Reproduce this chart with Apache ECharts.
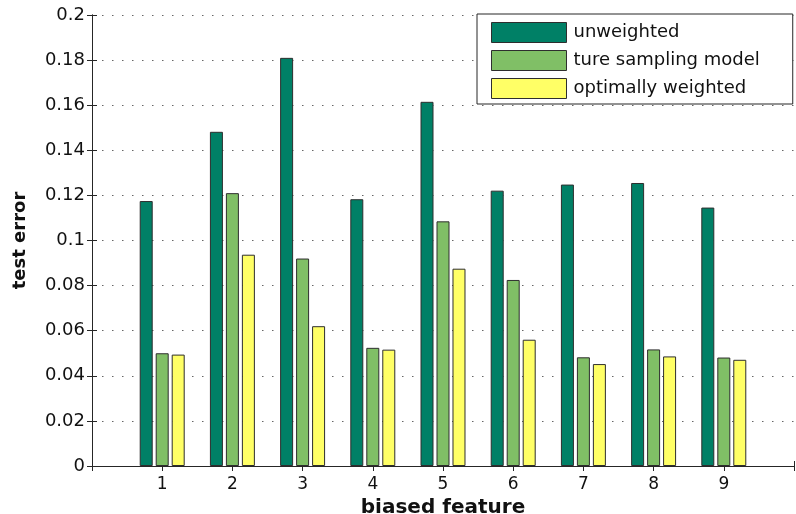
<!DOCTYPE html>
<html>
<head>
<meta charset="utf-8">
<script src="https://cdn.jsdelivr.net/npm/echarts@6/dist/echarts.min.js"></script>
<style>
  html, body { margin: 0; padding: 0; background: #fff; }
  #chart { width: 796px; height: 514px; }
</style>
</head>
<body>
<div id="chart"></div>
<script>
// Biased feature index (x positions of the bar groups)
const features = [1, 2, 3, 4, 5, 6, 7, 8, 9];

// Test error per biased feature
const unweighted        = [0.1175, 0.1482, 0.1810, 0.1183, 0.1615, 0.1221, 0.1248, 0.1255, 0.1146];
const trueSamplingModel = [0.0500, 0.1210, 0.0920, 0.0524, 0.1085, 0.0825, 0.0482, 0.0517, 0.0481];
const optimallyWeighted = [0.0494, 0.0937, 0.0620, 0.0516, 0.0875, 0.0560, 0.0452, 0.0486, 0.0471];

const seriesNames = ['unweighted', 'ture sampling model', 'optimally weighted'];
const seriesColors = ['#008066', '#80BF66', '#FFFF66'];

// Axis tick labels
const yTickLabels = ['0', '0.02', '0.04', '0.06', '0.08', '0.1', '0.12', '0.14', '0.16', '0.18', '0.2'];
const xTickLabels = ['', '1', '2', '3', '4', '5', '6', '7', '8', '9', ''];

const FONT = 'DejaVu Sans';
const frameColor = '#262626';

function toPoints(values) {
  return features.map((f, i) => [f, values[i]]);
}

const barCommon = {
  type: 'bar',
  barWidth: 13,
  barGap: '23%',
  xAxisIndex: 0,
  yAxisIndex: 0,
  itemStyle: { borderColor: '#2e2e2e', borderWidth: 1 },
  emphasis: { disabled: true },
  animation: false
};

const chart = echarts.init(document.getElementById('chart'), null, { renderer: 'canvas' });

chart.setOption({
  backgroundColor: '#ffffff',
  animation: false,
  grid: { left: 92, right: 2, top: 15, bottom: 48, containLabel: false, outerBoundsMode: 'none' },
  legend: {
    orient: 'vertical',
    left: 477,
    top: 14,
    padding: [8, 33, 5, 14],
    itemWidth: 75,
    itemHeight: 20,
    itemGap: 7,
    icon: 'rect',
    backgroundColor: '#ffffff',
    borderColor: frameColor,
    borderWidth: 1,
    borderRadius: 0,
    textStyle: { fontFamily: FONT, fontSize: 18, color: '#111', padding: [0, 0, 0, 2] },
    itemStyle: { borderColor: '#2e2e2e', borderWidth: 1 },
    data: seriesNames
  },
  xAxis: [
    {
      type: 'value',
      position: 'bottom',
      min: 0, max: 10, interval: 1,
      name: 'biased feature',
      nameLocation: 'middle',
      nameGap: 23,
      nameTextStyle: { fontFamily: FONT, fontSize: 20, fontWeight: 'bold', color: '#111' },
      axisLine: { show: true, lineStyle: { color: frameColor, width: 1 } },
      axisTick: { show: true, inside: true, length: 5, lineStyle: { color: frameColor } },
      axisLabel: {
        fontFamily: FONT, fontSize: 17, color: '#111', margin: 10,
        formatter: v => xTickLabels[Math.round(v)] || ''
      },
      splitLine: { show: false }
    },
    {
      type: 'value',
      position: 'top',
      min: 0, max: 10, interval: 1,
      axisLine: { show: true, lineStyle: { color: frameColor, width: 1 } },
      axisTick: { show: true, inside: true, length: 5, lineStyle: { color: frameColor } },
      axisLabel: { show: false },
      splitLine: { show: false }
    }
  ],
  yAxis: [
    {
      type: 'value',
      position: 'left',
      min: 0, max: 0.2, interval: 0.02,
      name: 'test error',
      nameLocation: 'middle',
      nameGap: 63,
      nameTextStyle: { fontFamily: FONT, fontSize: 18, fontWeight: 'bold', color: '#111' },
      axisLine: { show: true, lineStyle: { color: frameColor, width: 1 } },
      axisTick: { show: true, inside: true, length: 5, lineStyle: { color: frameColor } },
      axisLabel: {
        fontFamily: FONT, fontSize: 18, color: '#111', margin: 7,
        formatter: v => yTickLabels[Math.round(v / 0.02)]
      },
      splitLine: {
        show: true,
        lineStyle: { color: '#666666', width: 1, type: [1.5, 8.5] }
      }
    },
    {
      type: 'value',
      position: 'right',
      min: 0, max: 0.2, interval: 0.02,
      axisLine: { show: true, lineStyle: { color: frameColor, width: 1 } },
      axisTick: { show: true, inside: true, length: 5, lineStyle: { color: frameColor } },
      axisLabel: { show: false },
      splitLine: { show: false }
    }
  ],
  series: [
    Object.assign({}, barCommon, { name: seriesNames[0], data: toPoints(unweighted), itemStyle: Object.assign({}, barCommon.itemStyle, { color: seriesColors[0] }) }),
    Object.assign({}, barCommon, { name: seriesNames[1], data: toPoints(trueSamplingModel), itemStyle: Object.assign({}, barCommon.itemStyle, { color: seriesColors[1] }) }),
    Object.assign({}, barCommon, { name: seriesNames[2], data: toPoints(optimallyWeighted), itemStyle: Object.assign({}, barCommon.itemStyle, { color: seriesColors[2] }) })
  ]
});
</script>
</body>
</html>
